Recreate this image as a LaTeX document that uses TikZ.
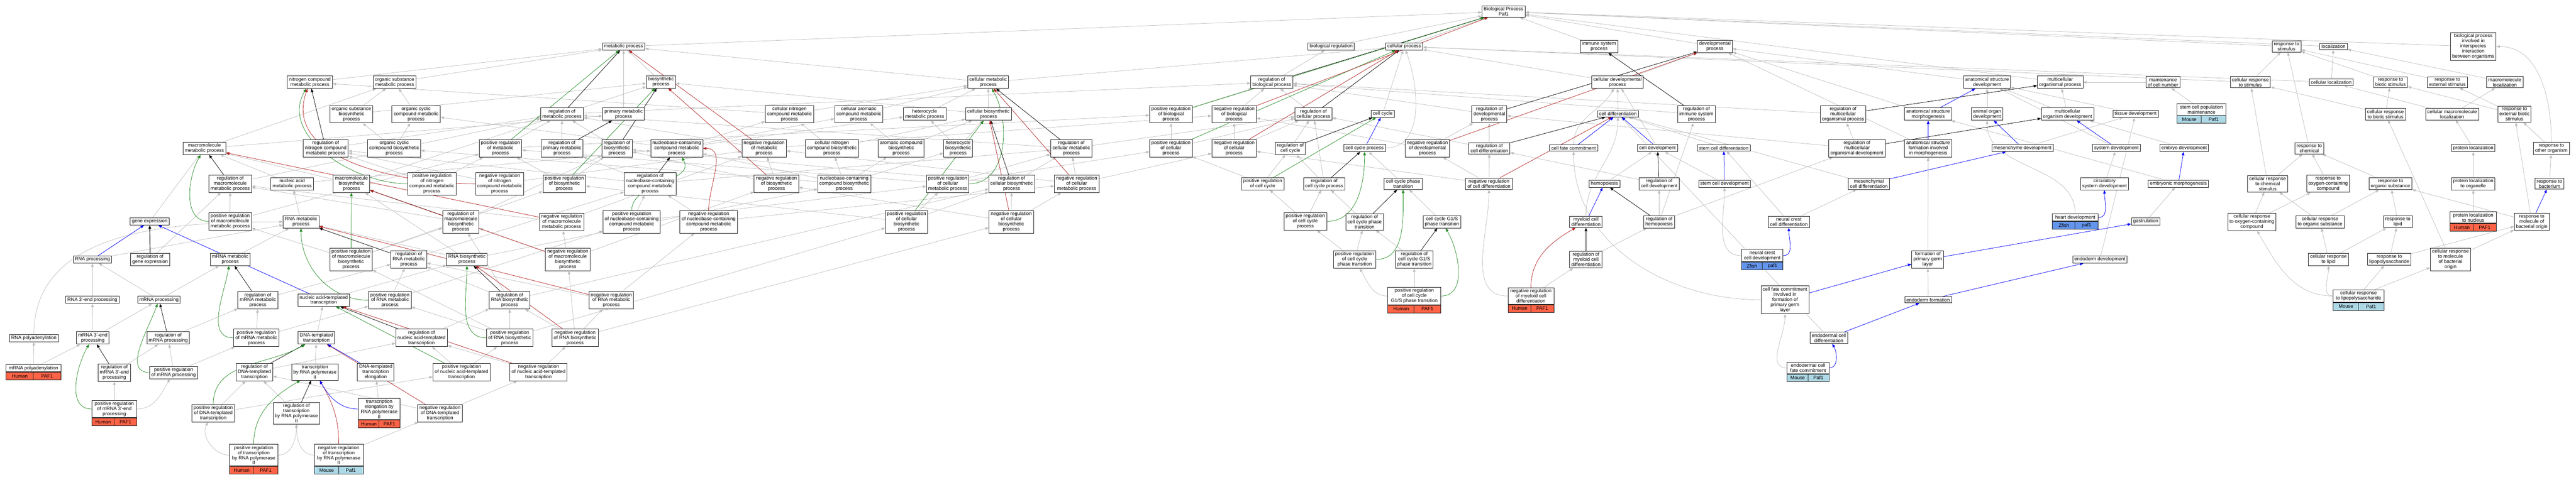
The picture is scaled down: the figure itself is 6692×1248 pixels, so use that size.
\documentclass[tikz,border=0pt]{standalone}
\usepackage{fontspec}
\setmainfont{Liberation Sans}
\usepackage{tikz}
\usetikzlibrary{arrows.meta,calc}
\definecolor{goGrey}{RGB}{190,190,190}
\definecolor{goGreen}{RGB}{34,139,34}
\definecolor{goRed}{RGB}{178,34,34}
\definecolor{goBlue}{RGB}{0,0,255}
\definecolor{human}{RGB}{255,99,71}
\definecolor{mouse}{RGB}{173,216,230}
\definecolor{zfish}{RGB}{100,149,237}
\pgfdeclarelayer{edges}
\pgfsetlayers{edges,main}
\newcommand{\genetags}[4]{%
  \path let \p1=(#1.south west), \p2=(#1.south east), \n1={0.5*(\x2-\x1)} in
    node[tagcell, fill=#4, minimum width=\n1, anchor=north west] at (\p1) {#2}
    node[tagcell, fill=#4, minimum width=\n1, anchor=north east] at (\p2) {#3};}

\begin{document}
\begin{tikzpicture}[x=1pt, y=-1pt]%
  \tikzset{isa arrow/.style={draw,-{Triangle[length=9pt,width=7pt]},line width=1pt,goGrey}}
  \tikzset{reg arrow/.style={draw,-{Triangle[length=9pt,width=7pt]},line width=1pt,black}}
  \tikzset{pos arrow/.style={draw,-{Triangle[length=9pt,width=7pt]},line width=1pt,goGreen}}
  \tikzset{neg arrow/.style={draw,-{Triangle[length=9pt,width=7pt]},line width=1pt,goRed}}
  \tikzset{part arrow/.style={draw,-{Triangle[length=9pt,width=7pt]},line width=1pt,goBlue}}
  \tikzset{term/.style={draw=black!85, fill=white, line width=1.2pt, align=center, inner xsep=4.5pt, inner ysep=3.5pt, font=\fontsize{12.6}{13.3}\selectfont}}
  \tikzset{tagcell/.style={draw=black!85, line width=1.2pt, inner sep=0pt, minimum height=20pt, font=\fontsize{12.6}{13.3}\selectfont}}
  \useasboundingbox (0,0) rectangle (6692,1248);

  % gene expression and RNA processing
  \node[term] at (531,386) (mmp) {macromolecule\\metabolic process};
  \node[term] at (389,576) (ge) {gene expression};
  \node[term] at (240,675) (rnap) {RNA processing};
  \node[term] at (390,675) (rge) {regulation of\\gene expression};
  \node[term] at (240,780) (r3p) {RNA 3'-end processing};
  \node[term] at (413,780) (mrnap) {mRNA processing};
  \node[term] at (88,880) (rpa) {RNA polyadenylation};
  \node[term] at (241,879) (m3p) {mRNA 3'-end\\processing};
  \node[term] at (437,879) (rmrnap) {regulation of\\mRNA processing};
  \node[term, minimum width=143] at (87,958) (mpa) {mRNA polyadenylation};
  \genetags{mpa}{Human}{PAF1}{human}
  \node[term] at (297,969) (rm3p) {regulation of\\mRNA 3'-end\\processing};
  \node[term] at (451,969) (prmrnap) {positive regulation\\of mRNA processing};
  \node[term, minimum width=117] at (297,1064) (prm3p) {positive regulation\\of mRNA 3'-end\\processing};
  \genetags{prm3p}{Human}{PAF1}{human}
  \node[term] at (554,1075) (prdtt) {positive regulation\\of DNA-templated\\transcription};

  % nitrogen compound and transcription
  \node[term] at (805,214) (ncmp) {nitrogen compound\\metabolic process};
  \node[term] at (1025,214) (osmp) {organic substance\\metabolic process};
  \node[term] at (913,297) (osbp) {organic substance\\biosynthetic\\process};
  \node[term] at (1081,297) (ocmp) {organic cyclic\\compound metabolic\\process};
  \node[term] at (846,386) (rncmp) {regulation of\\nitrogen compound\\metabolic process};
  \node[term] at (1024,386) (ocbp) {organic cyclic\\compound biosynthetic\\process};
  \node[term] at (598,478) (rmmp) {regulation of\\macromolecule\\metabolic process};
  \node[term] at (759,478) (namp) {nucleic acid\\metabolic process};
  \node[term] at (913,478) (mbsp) {macromolecule\\biosynthetic\\process};
  \node[term] at (1122,478) (prncmp) {positive regulation\\of nitrogen\\compound metabolic\\process};
  \node[term] at (598,576) (prmmp) {positive regulation\\of macromolecule\\metabolic process};
  \node[term] at (782,577) (rnamp) {RNA metabolic\\process};
  \node[term] at (598,675) (mrnamp) {mRNA metabolic\\process};
  \node[term] at (912,675) (prmbsp) {positive regulation\\of macromolecule\\biosynthetic\\process};
  \node[term] at (1062,675) (rrnamp) {regulation of\\RNA metabolic\\process};
  \node[term] at (670,781) (rmrnamp) {regulation of\\mRNA metabolic\\process};
  \node[term] at (841,781) (natt) {nucleic acid-templated\\transcription};
  \node[term] at (1013,781) (prrnamp) {positive regulation\\of RNA metabolic\\process};
  \node[term] at (666,879) (prmrnamp) {positive regulation\\of mRNA metabolic\\process};
  \node[term] at (822,879) (dtt) {DNA-templated\\transcription};
  \node[term] at (1095,879) (rnatt) {regulation of\\nucleic acid-templated\\transcription};
  \node[term] at (661,968) (rdtt) {regulation of\\DNA-templated\\transcription};
  \node[term] at (818,968) (trp2) {transcription\\by RNA polymerase\\II};
  \node[term] at (976,968) (dtte) {DNA-templated\\transcription\\elongation};
  \node[term] at (770,1075) (rtrp2) {regulation of\\transcription\\by RNA polymerase\\II};
  \node[term, minimum width=108] at (985,1064) (ter2) {transcription\\elongation by\\RNA polymerase\\II};
  \genetags{ter2}{Human}{PAF1}{human}
  \node[term] at (1143,1075) (ndtt) {negative regulation\\of DNA-templated\\transcription};
  \node[term, minimum width=126] at (659,1184) (prtrp2) {positive regulation\\of transcription\\by RNA polymerase\\II};
  \genetags{prtrp2}{Human}{PAF1}{human}
  \node[term, minimum width=127] at (880,1184) (nrtrp2) {negative regulation\\of transcription\\by RNA polymerase\\II};
  \genetags{nrtrp2}{Mouse}{Paf1}{mouse}

  % metabolic and biosynthetic process
  \node[term] at (1620,121) (mp) {metabolic process};
  \node[term] at (1717,213) (bsp) {biosynthetic\\process};
  \node[term] at (1460,297) (rmp) {regulation of\\metabolic process};
  \node[term] at (1620,297) (pmp) {primary metabolic\\process};
  \node[term] at (1300,386) (prmp) {positive regulation\\of metabolic\\process};
  \node[term] at (1460,386) (rpmp) {regulation of\\primary metabolic\\process};
  \node[term] at (1603,386) (rbsp) {regulation of\\biosynthetic\\process};
  \node[term] at (1298,478) (nrncmp) {negative regulation\\of nitrogen\\compound metabolic\\process};
  \node[term] at (1466,478) (prbsp) {positive regulation\\of biosynthetic\\process};
  \node[term] at (1689,478) (rnbcmp) {regulation of\\nucleobase-containing\\compound metabolic\\process};
  \node[term] at (1197,577) (rmbsp) {regulation of\\macromolecule\\biosynthetic\\process};
  \node[term] at (1459,577) (nrmmp) {negative regulation\\of macromolecule\\metabolic process};
  \node[term] at (1641,577) (prnbcmp) {positive regulation\\of nucleobase-containing\\compound metabolic\\process};
  \node[term] at (1213,675) (rnabsp) {RNA biosynthetic\\process};
  \node[term] at (1475,675) (nrmbsp) {negative regulation\\of macromolecule\\biosynthetic\\process};
  \node[term] at (1324,781) (rrnabsp) {regulation of\\RNA biosynthetic\\process};
  \node[term] at (1588,781) (nrrnamp) {negative regulation\\of RNA metabolic\\process};
  \node[term] at (1324,879) (prrnabsp) {positive regulation\\of RNA biosynthetic\\process};
  \node[term] at (1494,879) (nrrnabsp) {negative regulation\\of RNA biosynthetic\\process};
  \node[term] at (1199,968) (prnatt) {positive regulation\\of nucleic acid-templated\\transcription};
  \node[term] at (1399,968) (nrnatt) {negative regulation\\of nucleic acid-templated\\transcription};

  % nucleobase and cellular metabolism
  \node[term] at (1758,386) (nbcmp) {nucleobase-containing\\compound metabolic\\process};
  \node[term] at (2051,297) (cnmp) {cellular nitrogen\\compound metabolic\\process};
  \node[term] at (2231,297) (camp) {cellular aromatic\\compound metabolic\\process};
  \node[term] at (1985,386) (nrmp) {negative regulation\\of metabolic\\process};
  \node[term] at (2161,386) (cnbp) {cellular nitrogen\\compound biosynthetic\\process};
  \node[term] at (2017,478) (nrbsp) {negative regulation\\of biosynthetic\\process};
  \node[term] at (2193,478) (nbcbp) {nucleobase-containing\\compound biosynthetic\\process};
  \node[term] at (1841,577) (nrnbcmp) {negative regulation\\of nucleobase-containing\\compound metabolic\\process};
  \node[term] at (2567,214) (cmp) {cellular metabolic\\process};
  \node[term] at (2402,297) (hmp) {heterocycle\\metabolic process};
  \node[term] at (2568,297) (cbp) {cellular biosynthetic\\process};
  \node[term] at (2341,386) (abp) {aromatic compound\\biosynthetic\\process};
  \node[term] at (2489,386) (hbp) {heterocycle\\biosynthetic\\process};
  \node[term] at (2783,386) (rcmp) {regulation of\\cellular metabolic\\process};
  \node[term] at (2462,478) (prcmp) {positive regulation\\of cellular\\metabolic process};
  \node[term] at (2628,478) (rcbp) {regulation of\\cellular biosynthetic\\process};
  \node[term] at (2797,478) (nrcmp) {negative regulation\\of cellular\\metabolic process};
  \node[term] at (2355,577) (prcbp) {positive regulation\\of cellular\\biosynthetic\\process};
  \node[term] at (2627,577) (nrcbp) {negative regulation\\of cellular\\biosynthetic\\process};

  % regulation and cell cycle
  \node[term] at (3042,297) (posregbp) {positive regulation\\of biological\\process};
  \node[term] at (3206,297) (negregbp) {negative regulation\\of biological\\process};
  \node[term] at (3304,214) (regbp) {regulation of\\biological process};
  \node[term] at (3042,386) (posregcp) {positive regulation\\of cellular\\process};
  \node[term] at (3206,386) (negregcp) {negative regulation\\of cellular\\process};
  \node[term] at (3352,386) (rcc) {regulation of\\cell cycle};
  \node[term] at (3280,478) (prcc) {positive regulation\\of cell cycle};
  \node[term] at (3391,576) (prccp) {positive regulation\\of cell cycle\\process};
  \node[term] at (3906,30) (bp) {Biological Process\\Paf1};
  \node[term] at (3458,121) (breg) {biological regulation};
  \node[term] at (3648,121) (cp) {cellular process};
  \node[term] at (3412,297) (regcp) {regulation of\\cellular process};
  \node[term] at (3592,296) (cc) {cell cycle};
  \node[term] at (3545,385) (ccp) {cell cycle process};
  \node[term] at (3440,478) (rccp) {regulation of\\cell cycle process};
  \node[term] at (3645,478) (ccpt) {cell cycle phase\\transition};
  \node[term] at (3545,577) (rccpt) {regulation of\\cell cycle phase\\transition};
  \node[term] at (3746,577) (g1s) {cell cycle G1/S\\phase transition};
  \node[term] at (3519,675) (prccpt) {positive regulation\\of cell cycle\\phase transition};
  \node[term] at (3674,675) (rg1s) {regulation of\\cell cycle G1/S\\phase transition};
  \node[term, minimum width=138] at (3674,770) (prg1s) {positive regulation\\of cell cycle\\G1/S phase transition};
  \genetags{prg1s}{Human}{PAF1}{human}

  % development and differentiation
  \node[term] at (3708,386) (ndevp) {negative regulation\\of developmental\\process};
  \node[term] at (3869,297) (rdevp) {regulation of\\developmental\\process};
  \node[term] at (3869,386) (rcdiff) {regulation of\\cell differentiation};
  \node[term] at (3868,478) (ncdiff) {negative regulation\\of cell differentiation};
  \node[term, minimum width=119] at (3977,770) (nrmcd) {negative regulation\\of myeloid cell\\differentiation};
  \genetags{nrmcd}{Human}{PAF1}{human}
  \node[term] at (4154,121) (isp) {immune system\\process};
  \node[term] at (4455,121) (devp) {developmental\\process};
  \node[term] at (4202,214) (cdevp) {cellular developmental\\process};
  \node[term] at (4407,297) (risp) {regulation of\\immune system\\process};
  \node[term] at (4203,296) (cdiff) {cell differentiation};
  \node[term] at (4088,385) (cfc) {cell fate commitment};
  \node[term] at (4306,385) (cdev) {cell development};
  \node[term] at (4478,385) (scdiff) {stem cell differentiation};
  \node[term] at (4168,478) (hemo) {hemopoiesis};
  \node[term] at (4310,478) (rcdev) {regulation of\\cell development};
  \node[term] at (4480,478) (scdev) {stem cell development};
  \node[term] at (4120,577) (mcd) {myeloid cell\\differentiation};
  \node[term] at (4310,577) (rhemo) {regulation of\\hemopoiesis};
  \node[term] at (4120,675) (rmcd) {regulation of\\myeloid cell\\differentiation};
  \node[term] at (4788,297) (rmop) {regulation of\\multicellular\\organismal process};
  \node[term] at (5009,297) (asm) {anatomical structure\\morphogenesis};
  \node[term] at (4824,386) (rmod) {regulation of\\multicellular\\organismal development};
  \node[term] at (5009,386) (asfm) {anatomical structure\\formation involved\\in morphogenesis};
  \node[term] at (4855,478) (mescd) {mesenchymal\\cell differentiation};
  \node[term] at (4647,577) (nccd) {neural crest\\cell differentiation};
  \node[term, minimum width=108] at (4578,665) (nccdev) {neural crest\\cell development};
  \genetags{nccdev}{Zfish}{paf1}{zfish}
  \node[term] at (5008,675) (fpgl) {formation of\\primary germ\\layer};
  \node[term] at (4637,780) (cfcpgl) {cell fate commitment\\involved in\\formation of\\primary germ\\layer};
  \node[term] at (5009,780) (endf) {endoderm formation};
  \node[term] at (4751,879) (ecd) {endodermal cell\\differentiation};
  \node[term, minimum width=109] at (4697,957) (ecfc) {endodermal cell\\fate commitment};
  \genetags{ecfc}{Mouse}{Paf1}{mouse}
  \node[term] at (5162,214) (asd) {anatomical structure\\development};
  \node[term] at (5352,214) (mop) {multicellular\\organismal process};
  \node[term] at (5619,214) (mcn) {maintenance\\of cell number};
  \node[term] at (5162,297) (aod) {animal organ\\development};
  \node[term] at (5371,297) (mod) {multicellular\\organism development};
  \node[term] at (5548,296) (tisd) {tissue development};
  \node[term] at (5254,385) (mesd) {mesenchyme development};
  \node[term] at (5498,385) (sysd) {system development};
  \node[term] at (5467,478) (csd) {circulatory\\system development};
  \node[term] at (5674,385) (embd) {embryo development};
  \node[term] at (5659,478) (embm) {embryonic morphogenesis};
  \node[term, minimum width=119] at (5391,566) (heart) {heart development};
  \genetags{heart}{Zfish}{paf1}{zfish}
  \node[term] at (5574,576) (gast) {gastrulation};
  \node[term] at (5455,675) (endd) {endoderm development};

  % response and localization
  \node[term] at (5940,121) (rs) {response to\\stimulus};
  \node[term] at (6062,121) (loc) {localization};
  \node[term, minimum width=127] at (5719,285) (scpm) {stem cell population\\maintenance};
  \genetags{scpm}{Mouse}{Paf1}{mouse}
  \node[term] at (5846,214) (crs) {cellular response\\to stimulus};
  \node[term] at (6056,214) (cloc) {cellular localization};
  \node[term] at (5999,386) (rchem) {response to\\chemical};
  \node[term] at (5891,478) (crchem) {cellular response\\to chemical\\stimulus};
  \node[term] at (6048,478) (roxy) {response to\\oxygen-containing\\compound};
  \node[term] at (5850,577) (croxy) {cellular response\\to oxygen-containing\\compound};
  \node[term] at (6027,577) (cros) {cellular response\\to organic substance};
  \node[term] at (6049,675) (crlip) {cellular response\\to lipid};
  \node[term, minimum width=132] at (6127,770) (crlps) {cellular response\\to lipopolysaccharide};
  \genetags{crlps}{Mouse}{Paf1}{mouse}
  \node[term] at (6425,121) (bpinter) {biological process\\involved in\\interspecies\\interaction\\between organisms};
  \node[term] at (6210,214) (rbs) {response to\\biotic stimulus};
  \node[term] at (6358,214) (res) {response to\\external stimulus};
  \node[term] at (6507,214) (mloc) {macromolecule\\localization};
  \node[term] at (6197,297) (crbs) {cellular response\\to biotic stimulus};
  \node[term] at (6370,297) (cmloc) {cellular macromolecule\\localization};
  \node[term] at (6532,297) (rebs) {response to\\external biotic\\stimulus};
  \node[term] at (6425,385) (ploc) {protein localization};
  \node[term] at (6628,386) (roo) {response to\\other organism};
  \node[term] at (6210,478) (ros) {response to\\organic substance};
  \node[term] at (6425,478) (plorg) {protein localization\\to organelle};
  \node[term] at (6623,478) (rbact) {response to\\bacterium};
  \node[term] at (6229,577) (rlip) {response to\\lipid};
  \node[term, minimum width=120] at (6425,566) (plnuc) {protein localization\\to nucleus};
  \genetags{plnuc}{Human}{PAF1}{human}
  \node[term] at (6577,577) (rmbo) {response to\\molecule of\\bacterial origin};
  \node[term] at (6207,675) (rlps) {response to\\lipopolysaccharide};
  \node[term] at (6366,675) (crmbo) {cellular response\\to molecule\\of bacterial\\origin};

  \begin{pgfonlayer}{edges}
  % is_a
  \path[isa arrow] (breg) edge (bp) (cp) edge (bp) (mp) edge (bp) (isp) edge (bp) (devp) edge (bp);
  \path[isa arrow] (mop) edge (bp) (rs) edge (bp) (loc) edge (bp) (bpinter) edge (bp);
  \path[isa arrow] (regbp) edge (breg) (posregbp) edge (regbp) (negregbp) edge (regbp) (regcp) edge (regbp);
  \path[isa arrow] (posregcp) edge (regcp) (posregcp) edge (posregbp) (negregcp) edge (regcp) (negregcp) edge (negregbp);
  \path[isa arrow] (cc) edge (cp) (rcc) edge (regcp) (prcc) edge (rcc) (prcc) edge (posregcp);
  \path[isa arrow] (ccp) edge[out=0, in=290] (cp);
  \path[isa arrow] (rccp) edge (rcc) (rccp) edge (regcp) (prccp) edge (rccp) (prccp) edge (prcc) (ccpt) edge (ccp);
  \path[isa arrow] (rccpt) edge (rccp) (g1s) edge (ccpt) (prccpt) edge (rccpt) (prccpt) edge (prccp);
  \path[isa arrow] (rg1s) edge (rccpt) (prg1s) edge (rg1s);
  \path[isa arrow] (prg1s) edge[out=180, in=300] (prccpt);
  \path[isa arrow] (pmp) edge (mp) (osmp) edge (mp) (ncmp) edge (mp) (cmp) edge (mp) (cmp) edge (cp) (bsp) edge (mp);
  \path[isa arrow] (mmp) edge (osmp) (mmp) edge (pmp) (mbsp) edge (mmp) (mbsp) edge (bsp);
  \path[isa arrow] (osbp) edge (osmp) (osbp) edge (bsp) (ocmp) edge (osmp) (ocbp) edge (ocmp) (ocbp) edge (osbp);
  \path[isa arrow] (rmp) edge (regbp) (prmp) edge (rmp) (prmp) edge (posregbp) (nrmp) edge (rmp) (nrmp) edge (negregbp);
  \path[isa arrow] (rpmp) edge (rmp) (rbsp) edge (rmp) (prbsp) edge (rbsp) (prbsp) edge (prmp) (nrbsp) edge (rbsp) (nrbsp) edge (nrmp);
  \path[isa arrow] (rncmp) edge (rmp) (prncmp) edge (rncmp) (prncmp) edge (prmp) (nrncmp) edge (rncmp) (nrncmp) edge (nrmp);
  \path[isa arrow] (rmmp) edge (rmp) (prmmp) edge (rmmp) (prmmp) edge (prmp) (nrmmp) edge (rmmp) (nrmmp) edge (nrmp);
  \path[isa arrow] (rmbsp) edge (rmmp) (rmbsp) edge (rbsp) (prmbsp) edge (rmbsp) (prmbsp) edge (prmmp) (prmbsp) edge (prbsp);
  \path[isa arrow] (nrmbsp) edge (rmbsp) (nrmbsp) edge (nrmmp) (nrmbsp) edge (nrbsp);
  \path[isa arrow] (ge) edge (mmp) (rge) edge (rmmp) (namp) edge (nbcmp) (namp) edge (mmp) (rnamp) edge (namp) (mrnamp) edge (rnamp);
  \path[isa arrow] (rrnamp) edge (rnbcmp) (prrnamp) edge (rrnamp) (prrnamp) edge (prnbcmp) (nrrnamp) edge (rrnamp) (nrrnamp) edge (nrnbcmp);
  \path[isa arrow] (rmrnamp) edge (rrnamp) (prmrnamp) edge (rmrnamp) (prmrnamp) edge (prrnamp);
  \path[isa arrow] (nbcmp) edge (camp) (nbcmp) edge (hmp) (nbcmp) edge (ocmp) (nbcmp) edge (cnmp);
  \path[isa arrow] (cnmp) edge (ncmp) (cnmp) edge (cmp) (camp) edge (cmp) (hmp) edge (cmp);
  \path[isa arrow] (nbcbp) edge (nbcmp) (nbcbp) edge (cnbp) (nbcbp) edge (hbp) (nbcbp) edge (abp) (nbcbp) edge (ocbp);
  \path[isa arrow] (cnbp) edge (cnmp) (cnbp) edge (cbp) (cbp) edge (cmp) (cbp) edge (bsp) (abp) edge (camp) (abp) edge (cbp) (hbp) edge (hmp) (hbp) edge (cbp);
  \path[isa arrow] (rnbcmp) edge (rcmp) (rnbcmp) edge (rpmp) (rnbcmp) edge (rncmp) (prnbcmp) edge (rnbcmp) (prnbcmp) edge (prcmp) (nrnbcmp) edge (rnbcmp) (nrnbcmp) edge (nrcmp);
  \path[isa arrow] (rcmp) edge (rmp) (rcmp) edge (regcp) (prcmp) edge (rcmp) (prcmp) edge (prmp) (prcmp) edge (posregcp) (nrcmp) edge (rcmp) (nrcmp) edge (nrmp) (nrcmp) edge (negregcp);
  \path[isa arrow] (rcbp) edge (rcmp) (rcbp) edge (rbsp) (prcbp) edge (rcbp) (prcbp) edge (prbsp) (prcbp) edge (prcmp) (nrcbp) edge (rcbp) (nrcbp) edge (nrbsp) (nrcbp) edge (nrcmp);
  \path[isa arrow] (rnabsp) edge (rnamp) (rnabsp) edge (nbcbp) (rnabsp) edge (mbsp);
  \path[isa arrow] (rrnabsp) edge (rrnamp) (rrnabsp) edge (rcbp) (rrnabsp) edge (rmbsp);
  \path[isa arrow] (prrnabsp) edge (rrnabsp) (prrnabsp) edge (prrnamp) (prrnabsp) edge (prcbp) (prrnabsp) edge (prmbsp);
  \path[isa arrow] (nrrnabsp) edge (rrnabsp) (nrrnabsp) edge (nrrnamp) (nrrnabsp) edge (nrmbsp) (nrrnabsp) edge (nrcbp);
  \path[isa arrow] (natt) edge (rnabsp) (dtt) edge (natt) (rnatt) edge (rrnabsp) (rdtt) edge (rnatt);
  \path[isa arrow] (prdtt) edge (rdtt) (prdtt) edge (prnatt) (ndtt) edge (rdtt) (ndtt) edge (nrnatt);
  \path[isa arrow] (prnatt) edge (rnatt) (prnatt) edge (prrnabsp) (nrnatt) edge (rnatt) (nrnatt) edge (nrrnabsp);
  \path[isa arrow] (trp2) edge (dtt) (ter2) edge (dtte) (rtrp2) edge (rdtt) (nrtrp2) edge (ndtt);
  \path[isa arrow] (prtrp2) edge[out=0, in=270] (rtrp2) (nrtrp2) edge[out=180, in=270] (rtrp2) (prtrp2) edge[out=180, in=240] (prdtt);
  \path[isa arrow] (rnap) edge (rnamp) (r3p) edge (rnap) (mrnap) edge (rnap) (mrnap) edge (mrnamp);
  \path[isa arrow] (rpa) edge[out=90, in=180] (rnamp);
  \path[isa arrow] (m3p) edge (r3p) (m3p) edge (mrnap) (rmrnap) edge (rmrnamp) (mpa) edge (rpa) (mpa) edge (m3p) (rm3p) edge (rmrnap);
  \path[isa arrow] (prmrnap) edge (rmrnap) (prmrnap) edge (prmrnamp) (prm3p) edge (rm3p);
  \path[isa arrow] (prm3p) edge[out=0, in=240] (prmrnap);
  \path[isa arrow] (rdevp) edge (regbp) (ndevp) edge (rdevp) (ndevp) edge (negregbp) (cdevp) edge (devp) (cdevp) edge (cp) (cdiff) edge (cdevp);
  \path[isa arrow] (rcdiff) edge (rdevp) (rcdiff) edge (regcp) (ncdiff) edge (rcdiff) (ncdiff) edge (ndevp) (ncdiff) edge (negregcp);
  \path[isa arrow] (cdev) edge (cdevp) (scdiff) edge (cdiff) (hemo) edge (cdev) (rcdev) edge (rcdiff) (scdev) edge (cdev);
  \path[isa arrow] (cfc) edge[out=90, in=240] (cdevp);
  \path[isa arrow] (mcd) edge[out=90, in=270] (cdiff);
  \path[isa arrow] (rhemo) edge (rcdev) (rhemo) edge (rmod) (rhemo) edge (risp) (rmcd) edge (rhemo) (nrmcd) edge (rmcd);
  \path[isa arrow] (nrmcd) edge[out=180, in=270] (ncdiff);
  \path[isa arrow] (risp) edge (regbp) (rmop) edge (regbp) (rmod) edge (rmop) (rmod) edge (rdevp) (asfm) edge (devp) (asm) edge (devp);
  \path[isa arrow] (mescd) edge (cdiff) (nccd) edge (mescd) (nccd) edge (scdiff) (fpgl) edge (asfm);
  \path[isa arrow] (nccdev) edge[out=180, in=270] (scdev);
  \path[isa arrow] (cfcpgl) edge[out=180, in=270] (cfc) (endf) edge (fpgl) (ecd) edge (cdiff);
  \path[isa arrow] (ecfc) edge[out=180, in=270] (cfcpgl);
  \path[isa arrow] (asd) edge (devp) (aod) edge (asd) (mod) edge (asd) (mod) edge (mop) (tisd) edge (asd) (mesd) edge (tisd);
  \path[isa arrow] (sysd) edge (asd) (csd) edge (sysd) (heart) edge[out=90, in=270] (aod) (mcn) edge (mop) (scpm) edge (mcn);
  \path[isa arrow] (embd) edge (mod) (embm) edge (asm) (gast) edge (embm) (endd) edge (tisd);
  \path[isa arrow] (crs) edge (rs) (crs) edge (cp) (cloc) edge (loc) (cloc) edge (cp) (rchem) edge (rs) (crchem) edge (rchem) (crchem) edge (crs);
  \path[isa arrow] (roxy) edge (rchem) (croxy) edge (crchem) (croxy) edge (roxy) (cros) edge (crchem) (cros) edge (ros);
  \path[isa arrow] (crlip) edge (cros) (crlip) edge (rlip) (crlps) edge (crmbo) (crlps) edge (rlps);
  \path[isa arrow] (crlps) edge[out=180, in=270] (crlip) (crlps) edge[out=180, in=300] (croxy);
  \path[isa arrow] (rbs) edge (rs) (res) edge (rs) (mloc) edge (loc) (crbs) edge (rbs) (crbs) edge (crs) (cmloc) edge (mloc) (cmloc) edge (cloc);
  \path[isa arrow] (rebs) edge (rbs) (rebs) edge (res) (ploc) edge (cmloc) (roo) edge (rebs) (ros) edge (rchem);
  \path[isa arrow] (roo) edge[out=90, in=0] (bpinter);
  \path[isa arrow] (plorg) edge (ploc) (rbact) edge (roo) (rlip) edge (ros) (plnuc) edge (plorg) (rmbo) edge (ros) (rmbo) edge (rebs);
  \path[isa arrow] (rlps) edge (rlip) (rlps) edge (rmbo) (crmbo) edge (rmbo) (crmbo) edge (crbs);
  % regulates
  \path[reg arrow] (regbp) edge (bp) (regcp) edge (cp) (rmp) edge (mp) (rpmp) edge (pmp) (rbsp) edge (bsp) (rncmp) edge (ncmp);
  \path[reg arrow] (rmmp) edge (mmp) (rmbsp) edge (mbsp) (rrnamp) edge (rnamp) (rmrnamp) edge (mrnamp) (rnbcmp) edge (nbcmp);
  \path[reg arrow] (rcmp) edge (cmp) (rcbp) edge (cbp) (rrnabsp) edge (rnabsp) (rnatt) edge (natt) (rdtt) edge (dtt) (rtrp2) edge (trp2);
  \path[reg arrow, line width=1.6pt] (rge) edge (ge);
  \path[reg arrow] (rmrnap) edge (mrnap) (rm3p) edge (m3p) (rcc) edge (cc) (rccp) edge (ccp) (rccpt) edge (ccpt) (rg1s) edge (g1s);
  \path[reg arrow] (rdevp) edge (devp) (rcdiff) edge (cdiff) (rcdev) edge (cdev) (rhemo) edge (hemo) (risp) edge (isp) (rmop) edge (mop) (rmod) edge (mod);
  \path[reg arrow, line width=1.6pt] (rmcd) edge (mcd);
  % positively regulates
  \path[pos arrow] (posregbp) edge (bp) (posregcp) edge (cp) (prmp) edge (mp) (prbsp) edge (bsp) (prmbsp) edge (mbsp) (prcbp) edge (cbp);
  \path[pos arrow] (prncmp) edge[out=180, in=240] (ncmp) (prmmp) edge[out=180, in=240] (mmp) (prnbcmp) edge[out=90, in=300] (nbcmp);
  \path[pos arrow] (prrnamp) edge[out=180, in=270] (rnamp) (prmrnamp) edge[out=180, in=260] (mrnamp) (prcmp) edge[out=0, in=300] (cmp);
  \path[pos arrow] (prrnabsp) edge[out=180, in=270] (rnabsp) (prnatt) edge (natt) (prdtt) edge[out=90, in=210] (dtt);
  \path[pos arrow] (prtrp2) edge[out=90, in=210] (trp2) (prmrnap) edge[out=180, in=250] (mrnap) (prm3p) edge[out=180, in=240] (m3p);
  \path[pos arrow] (prcc) edge (cc) (prccp) edge[out=0, in=270] (ccp) (prccpt) edge[out=0, in=270] (ccpt) (prg1s) edge[out=0, in=300] (g1s);
  % negatively regulates
  \path[neg arrow] (negregbp) edge (bp) (negregcp) edge (cp) (nrmp) edge (mp) (nrbsp) edge (bsp) (nrmmp) edge (mmp);
  \path[neg arrow] (nrncmp) edge[out=180, in=250] (ncmp) (nrnbcmp) edge[out=90, in=0] (nbcmp);
  \path[neg arrow] (nrmbsp) edge (mbsp) (nrrnamp) edge (rnamp) (nrcmp) edge (cmp) (nrcbp) edge (cbp);
  \path[neg arrow] (nrrnabsp) edge (rnabsp) (nrnatt) edge (natt) (ndtt) edge (dtt) (nrtrp2) edge[out=90, in=300] (trp2);
  \path[neg arrow] (ndevp) edge (devp) (ncdiff) edge (cdiff) (nrmcd) edge[out=90, in=210] (mcd);
  % part_of
  \path[part arrow] (natt) edge (ge) (rnap) edge (ge) (dtte) edge (dtt) (ccp) edge (cc) (cfc) edge (cdiff) (cdev) edge (cdiff);
  \path[part arrow] (ter2) edge[out=180, in=300] (trp2);
  \path[part arrow] (scdev) edge (scdiff) (mcd) edge (hemo) (asm) edge (asd) (asfm) edge (asm) (mescd) edge (mesd);
  \path[part arrow] (nccdev) edge[out=0, in=270] (nccd) (ecfc) edge[out=0, in=300] (ecd) (heart) edge[out=0, in=270] (csd);
  \path[part arrow] (fpgl) edge (gast) (cfcpgl) edge (fpgl) (endf) edge (endd) (ecd) edge (endf) (mesd) edge (aod);
  \path[part arrow] (sysd) edge (mod) (embm) edge (embd) (rmbo) edge (rbact);
  \end{pgfonlayer}
\end{tikzpicture}
\end{document}
